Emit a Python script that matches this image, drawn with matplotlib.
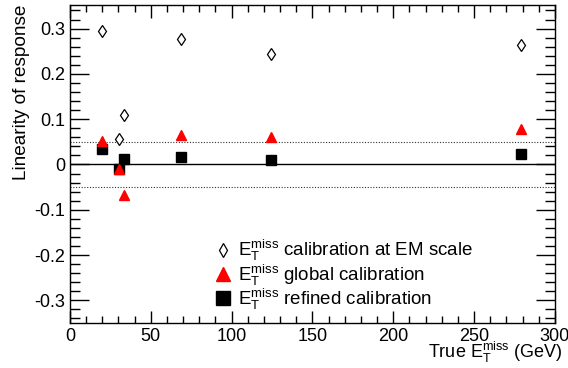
import matplotlib
matplotlib.use("Agg")
import matplotlib.pyplot as plt
from matplotlib.lines import Line2D
from matplotlib.ticker import MultipleLocator

plt.rcParams.update({"font.family": ["Liberation Sans", "DejaVu Sans"],
                     "mathtext.fontset": "custom",
                     "mathtext.rm": "Liberation Sans",
                     "mathtext.it": "Liberation Sans",
                     "font.size": 13})

# true missing ET (GeV) and linearity for each calibration
x_true = [19.6, 30.5, 33.6, 68.6, 124.1, 278.7]
lin_em = [0.295, 0.057, 0.109, 0.277, 0.243, 0.263]
lin_global = [0.052, -0.010, -0.068, 0.065, 0.061, 0.078]
lin_refined = [0.035, -0.009, 0.011, 0.017, 0.010, 0.022]

ET = r"$\mathrm{E}_{\mathrm{T}}^{\mathrm{miss}}$"
RED = "#ff0000"

fig = plt.figure(figsize=(5.68, 3.68), dpi=100)
ax = fig.add_axes([0.1232, 0.1223, 0.8538, 0.8641])

ax.axhline(0, color="black", lw=1.0, zorder=1)
ax.axhline(0.05, color="#333333", lw=0.8, ls=(0, (1, 1.5)), zorder=1)
ax.axhline(-0.05, color="#333333", lw=0.8, ls=(0, (1, 1.5)), zorder=1)

ax.plot(x_true, lin_em, ls="none", marker="d", ms=6, mfc="white", mec="black",
        mew=0.9, zorder=3)
ax.plot(x_true, lin_refined, ls="none", marker="s", ms=7, color="black", zorder=3)
ax.plot(x_true, lin_global, ls="none", marker="^", ms=7, color=RED, mec=RED, zorder=4)

ax.set_xlim(0, 300)
ax.set_ylim(-0.35, 0.352)
ax.xaxis.set_major_locator(MultipleLocator(50))
ax.xaxis.set_minor_locator(MultipleLocator(10))
ax.yaxis.set_minor_locator(MultipleLocator(0.02))
ax.set_yticks([-0.3, -0.2, -0.1, 0, 0.1, 0.2, 0.3])
ax.set_yticklabels(["-0.3", "-0.2", "-0.1", "0", "0.1", "0.2", "0.3"])
ax.tick_params(which="both", direction="in", top=True, right=True, labelsize=13)
ax.tick_params(axis="y", which="major", length=14, width=1)
ax.tick_params(axis="y", which="minor", length=7, width=1)
ax.tick_params(axis="x", which="major", length=9, width=1)
ax.tick_params(axis="x", which="minor", length=5, width=1)
for s in ax.spines.values():
    s.set_linewidth(1.0)

ax.set_ylabel("Linearity of response", fontsize=13.7, loc="top")
ax.yaxis.set_label_coords(-0.083, 1.0)
fig.text(563 / 568, 1 - 358 / 368, "True " + ET + " (GeV)", fontsize=13,
         ha="right", va="baseline")

handles = [
    Line2D([], [], ls="none", marker="d", ms=7, mfc="white", mec="black", mew=0.9),
    Line2D([], [], ls="none", marker="^", ms=10, color=RED, mec=RED),
    Line2D([], [], ls="none", marker="s", ms=9.5, color="black"),
]
labels = [ET + " calibration at EM scale", ET + " global calibration",
          ET + " refined calibration"]
ax.legend(handles, labels, loc="lower left", bbox_to_anchor=(0.277, 0.006), frameon=False,
          fontsize=13.5, handletextpad=0.3, labelspacing=-0.05, borderpad=0,
          handlelength=1.0)

fig.savefig("out.png", dpi=100)
